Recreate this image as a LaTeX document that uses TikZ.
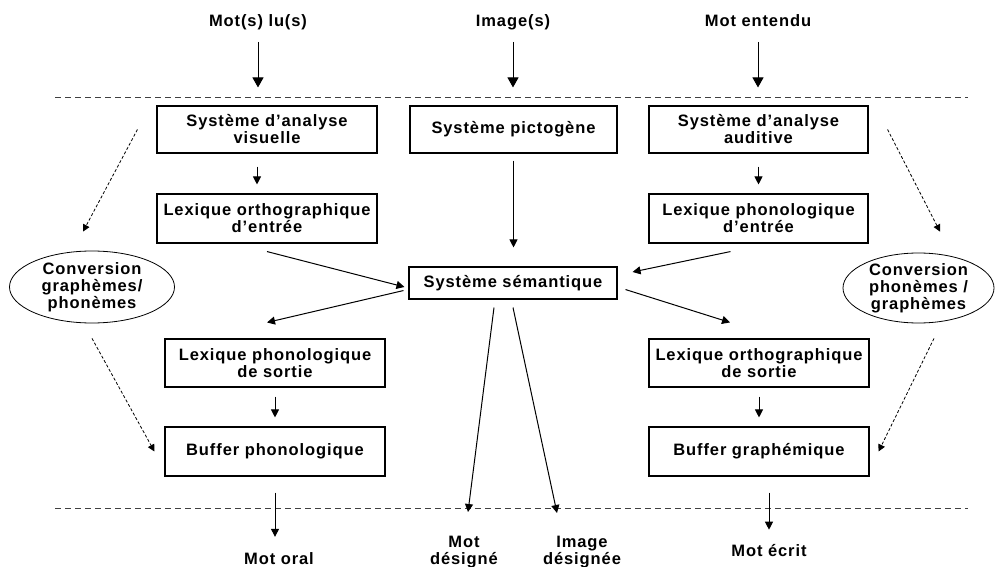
\documentclass[tikz,border=0pt]{standalone}
\usepackage{fontspec}
\setmainfont{Liberation Sans}[LetterSpace=5.5]
\usetikzlibrary{arrows.meta,shapes.geometric}
\begin{document}
\begin{tikzpicture}[x=1pt,y=-1pt,
  every node/.style={font=\fontsize{16.5}{17}\selectfont\bfseries},
  box/.style={draw,line width=1.1pt,align=center,inner sep=0pt},
  ell/.style={ellipse,draw,line width=0.8pt,align=center,inner sep=0pt},
  lbl/.style={align=center,inner sep=0pt},
  arr/.style={line width=1pt,-{Triangle[length=8pt,width=8pt]}},
  bigarr/.style={line width=1pt,-{Triangle[length=10pt,width=11pt]}},
  darr/.style={line width=0.8pt,dash pattern=on 3pt off 2pt,-{Triangle[length=7pt,width=7pt]}},
  sep/.style={line width=1pt,dash pattern=on 6pt off 4pt,black!75}
]
\useasboundingbox (0,0) rectangle (996,567);

% separators
\draw[sep] (55,98) -- (968,98);
\draw[sep] (55,508) -- (968,508);

% input labels
\node[lbl,anchor=base] (t1) at (258,27) {Mot(s) lu(s)};
\node[lbl,anchor=base] (t2) at (513,27) {Image(s)};
\node[lbl,anchor=base] (t3) at (758,27) {Mot entendu};

% boxes
\node[box,minimum width=220pt,minimum height=47pt] (vis) at (267,129.5) {Système d’analyse\\visuelle};
\node[box,minimum width=207pt,minimum height=47pt] (pic) at (513.5,129.5) {Système pictogène};
\node[box,minimum width=219pt,minimum height=47pt] (aud) at (758.5,129.5) {Système d’analyse\\auditive};
\node[box,minimum width=220pt,minimum height=49pt] (lo1) at (267,218.5) {Lexique orthographique\\d’entrée};
\node[box,minimum width=219pt,minimum height=49pt] (lp1) at (758.5,218.5) {Lexique phonologique\\d’entrée};
\node[box,minimum width=208pt,minimum height=32pt] (sem) at (513,283) {Système sémantique};
\node[box,minimum width=220pt,minimum height=48pt] (lp2) at (275,363) {Lexique phonologique\\de sortie};
\node[box,minimum width=220pt,minimum height=48pt] (lo2) at (759,363) {Lexique orthographique\\de sortie};
\node[box,minimum width=220pt,minimum height=49pt] (buf1) at (275,451.5) {Buffer phonologique};
\node[box,minimum width=220pt,minimum height=49pt] (buf2) at (759,451.5) {Buffer graphémique};

% ellipses
\node[ell,minimum width=165pt,minimum height=72pt] (ell1) at (92,287) {Conversion\\graphèmes/\\phonèmes};
\node[ell,minimum width=151pt,minimum height=70pt] (ell2) at (918.5,288) {Conversion\\phonèmes /\\graphèmes};

% output labels
\node[lbl,anchor=base] (mo) at (279,564) {Mot oral};
\node[lbl] (md) at (464,552) {Mot\\désigné};
\node[lbl] (id) at (582,552) {Image\\désignée};
\node[lbl,anchor=base] (me) at (769,556) {Mot écrit};
\coordinate (mdtip) at (468,512);
\coordinate (idtip) at (557,513);

% input arrows
\draw[bigarr,shorten <=15pt,shorten >=18pt] (t1.base) -- (t1.base |- vis.north);
\draw[bigarr,shorten <=15pt,shorten >=18pt] (t2.base) -- (t2.base |- pic.north);
\draw[bigarr,shorten <=15pt,shorten >=18pt] (t3.base) -- (t3.base |- aud.north);

% internal arrows
\draw[arr,shorten <=13pt,shorten >=9pt] ([xshift=-10pt]vis.south) -- ([xshift=-10pt]lo1.north);
\draw[arr,shorten <=13pt,shorten >=9pt] (aud.south) -- (aud.south |- lp1.north);
\draw[arr,shorten <=7pt,shorten >=19pt] (pic.south) -- (pic.south |- sem.north);
\draw[arr] ([yshift=-8pt]lo1.south) -- ([xshift=-4pt,yshift=-4pt]sem.west);
\draw[arr] ([xshift=-28pt,yshift=-8pt]lp1.south) -- ([xshift=15pt,yshift=11pt]sem.east);
\draw[arr] ([xshift=-5pt,yshift=9pt]sem.south west) -- ([xshift=-8pt,yshift=16pt]lp2.north);
\draw[arr] ([xshift=8pt,yshift=10pt]sem.south east) -- ([xshift=-29pt,yshift=16pt]lo2.north);
\draw[arr] ([xshift=-19pt,yshift=-8pt]sem.south) -- (mdtip);
\draw[arr] ([xshift=0pt,yshift=-8pt]sem.south) -- (idtip);
\draw[arr,shorten <=9pt,shorten >=9pt] (lp2.south) -- (buf1.north);
\draw[arr,shorten <=9pt,shorten >=9pt] (lo2.south) -- (buf2.north);
\draw[arr,shorten <=16pt,shorten >=15pt] (buf1.south) -- (buf1.south |- mo.north);
\draw[arr,shorten <=16pt,shorten >=14pt] (me.north |- buf2.south) -- (me.north);

% dashed conversion arrows
\draw[darr] ([xshift=-19pt]vis.west) -- ([xshift=-9pt,yshift=19pt]ell1.north);
\draw[darr] ([yshift=-15pt]ell1.south) -- ([xshift=-10pt]buf1.west);
\draw[darr] ([xshift=19pt]aud.east) -- ([xshift=21.5pt,yshift=21pt]ell2.north);
\draw[darr] ([xshift=15.5pt,yshift=-15pt]ell2.south) -- ([xshift=9pt]buf2.east);
\end{tikzpicture}
\end{document}
